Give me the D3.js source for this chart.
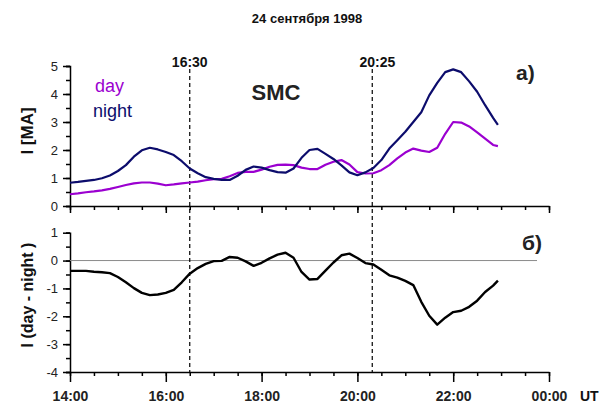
<!DOCTYPE html>
<html>
<head>
<meta charset="utf-8">
<script src="https://cdn.jsdelivr.net/npm/d3@7"></script>
<style>
  body { margin: 0; background: #fff; }
  svg { display: block; font-family: "Liberation Sans", Arial, sans-serif; }
  .axis path, .axis line { stroke: #000; stroke-width: 1.5; }
  .axis text { fill: #222; }
</style>
</head>
<body>
<script>
// minutes after 14:00 UT, one reading every 10 min (last one 22:56)
const tMin = [0,10,20,30,40,50,60,70,80,90,100,110,120,130,140,150,160,170,180,190,
  200,210,220,230,240,250,260,270,280,290,300,310,320,330,340,350,360,370,380,390,
  400,410,420,430,440,450,460,470,480,490,500,510,520,530,536];

// current I [MA]
const dayI = [0.42,0.45,0.49,0.52,0.56,0.61,0.68,0.75,0.81,0.84,0.84,0.80,0.74,0.77,0.81,0.84,0.87,0.92,0.96,0.97,
  1.06,1.18,1.22,1.22,1.30,1.40,1.47,1.48,1.46,1.37,1.32,1.32,1.47,1.58,1.64,1.48,1.21,1.16,1.17,1.28,
  1.46,1.70,1.91,2.05,1.98,1.93,2.08,2.58,3.00,2.98,2.84,2.63,2.41,2.18,2.14];
const nightI = [0.83,0.86,0.90,0.93,0.99,1.09,1.25,1.46,1.76,1.99,2.08,2.02,1.93,1.82,1.60,1.34,1.17,1.03,0.97,0.93,
  0.93,1.08,1.29,1.41,1.37,1.28,1.21,1.19,1.34,1.72,2.00,2.04,1.86,1.68,1.45,1.20,1.10,1.20,1.36,1.64,
  2.05,2.35,2.65,3.00,3.35,3.95,4.40,4.78,4.88,4.78,4.45,4.08,3.60,3.15,2.90];
const diffI = [-0.37,-0.37,-0.37,-0.40,-0.42,-0.45,-0.59,-0.78,-0.99,-1.16,-1.24,-1.22,-1.16,-1.05,-0.78,-0.47,-0.27,-0.12,-0.02,-0.01,
  0.13,0.10,-0.03,-0.19,-0.08,0.08,0.21,0.28,0.10,-0.41,-0.68,-0.66,-0.36,-0.07,0.19,0.25,0.09,-0.09,-0.14,-0.33,
  -0.53,-0.61,-0.73,-0.88,-1.48,-1.98,-2.30,-2.05,-1.85,-1.80,-1.66,-1.44,-1.13,-0.90,-0.72];

const xMajor = [14,16,18,20,22,24];
const xLabels = ["14:00","16:00","18:00","20:00","22:00","00:00"];
const topTicks = [0,1,2,3,4,5];
const botTicks = [1,0,-1,-2,-3,-4];
// event markers: where the line is drawn and where its label sits
const markerLine = [16.5, 20.31];
const markerLabelAt = [16.5, 20.4167];
const markerText = ["16:30", "20:25"];
const zeroLineEnd = 23.75;

const W = 608, H = 406;
const svg = d3.select("body").append("svg").attr("width", W).attr("height", H);

const x = d3.scaleLinear().domain([14, 24]).range([70, 549]);
const yTop = d3.scaleLinear().domain([0, 5]).range([206, 66]);
const yBot = d3.scaleLinear().domain([-4, 1]).range([372, 232.7]);
const tHour = m => 14 + m / 60;

const half = (a, b) => d3.range(a, b + 0.001, 0.5);

function yAxes(scale, ticks) {
  const g = svg.append("g").attr("class", "axis").attr("transform", "translate(70,0)");
  g.call(d3.axisLeft(scale).tickValues(half(d3.min(ticks), d3.max(ticks))).tickSize(4).tickFormat(""));
  const g2 = svg.append("g").attr("class", "axis").attr("transform", "translate(70,0)");
  g2.call(d3.axisLeft(scale).tickValues(ticks).tickSize(7).tickPadding(5).tickSizeOuter(0)
    .tickFormat(d => String(d)));
  g2.selectAll("text").style("font-size", "13px");
  g2.select(".domain").remove();
}

function xAxes(y0, size, labels) {
  const g = svg.append("g").attr("class", "axis").attr("transform", `translate(0,${y0})`);
  g.call(d3.axisBottom(x).tickValues(half(14, 24)).tickSize(4).tickSizeOuter(0).tickFormat(""));
  const g2 = svg.append("g").attr("class", "axis").attr("transform", `translate(0,${y0})`);
  g2.call(d3.axisBottom(x).tickValues(xMajor).tickSize(size).tickPadding(9)
    .tickFormat((d, i) => labels ? xLabels[i] : ""));
  g2.select(".domain").remove();
  g2.selectAll("text").style("font-size", "14px").style("font-weight", "bold").attr("fill", "#111");
}

yAxes(yTop, topTicks);
yAxes(yBot, botTicks);
xAxes(206, 7, false);
xAxes(372, 10, true);

// zero line of lower panel
svg.append("line")
  .attr("x1", x(14)).attr("x2", x(zeroLineEnd))
  .attr("y1", yBot(0)).attr("y2", yBot(0))
  .attr("stroke", "#8a8a8a").attr("stroke-width", 1);

// dashed event lines
markerLine.forEach((t, i) => {
  svg.append("line")
    .attr("x1", x(t)).attr("x2", x(t)).attr("y1", 69).attr("y2", 372)
    .attr("stroke", "#000").attr("stroke-width", 1.2).attr("stroke-dasharray", "4,3");
  svg.append("text").attr("x", x(markerLabelAt[i])).attr("y", 67)
    .attr("text-anchor", "middle").style("font-size", "14px").style("font-weight", "bold")
    .attr("fill", "#111").text(markerText[i]);
});

const line = scale => d3.line()
  .x((d, i) => x(tHour(tMin[i])))
  .y(d => scale(d));

svg.append("path").datum(dayI).attr("d", line(yTop))
  .attr("fill", "none").attr("stroke", "#9b00d0").attr("stroke-width", 2.2).attr("stroke-linejoin", "round");
svg.append("path").datum(nightI).attr("d", line(yTop))
  .attr("fill", "none").attr("stroke", "#0c0c6c").attr("stroke-width", 2.2).attr("stroke-linejoin", "round");
svg.append("path").datum(diffI).attr("d", line(yBot))
  .attr("fill", "none").attr("stroke", "#000").attr("stroke-width", 2.4).attr("stroke-linejoin", "round");

// texts
const txt = (tx, ty, s, size, weight, color, anchor) =>
  svg.append("text").attr("x", tx).attr("y", ty).text(s)
    .style("font-size", size + "px").style("font-weight", weight)
    .attr("fill", color).attr("text-anchor", anchor || "start");

txt(307, 23, "24 сентября 1998", 13, "bold", "#111", "middle");
txt(276, 100, "SMC", 22, "bold", "#222", "middle");
txt(516, 80, "a)", 21, "bold", "#222");
txt(522, 250, "б)", 21, "bold", "#222");
txt(95, 92, "day", 18, "normal", "#9b00d0");
txt(93, 117, "night", 18, "normal", "#0c0c6c");
txt(580, 401, "UT", 14, "bold", "#111");

svg.append("text").attr("transform", "translate(33,131) rotate(-90)")
  .attr("text-anchor", "middle").style("font-size", "17px").style("font-weight", "bold")
  .attr("fill", "#111").text("I [MA]");
svg.append("text").attr("transform", "translate(33,295) rotate(-90)")
  .attr("text-anchor", "middle").style("font-size", "16px").style("font-weight", "bold")
  .attr("fill", "#111").text("I (day - night )");
</script>
</body>
</html>
